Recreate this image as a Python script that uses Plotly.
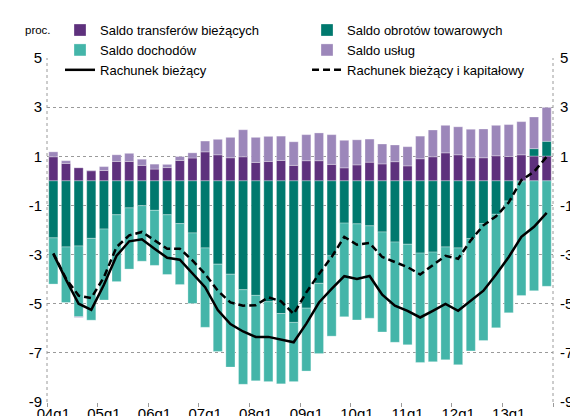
import plotly.graph_objects as go

quarters = [f"{y:02d}q{q}" for y in range(4, 14) for q in range(1, 5)]
tick_labels = ["04q1", "05q1", "06q1", "07q1", "08q1", "09q1", "10q1", "11q1", "12q1", "13q1"]

transfers = [0.98, 0.71, 0.53, 0.41, 0.42, 0.79, 0.79, 0.63, 0.48, 0.54,
             0.83, 0.93, 1.18, 1.06, 0.94, 0.98, 0.75, 0.79, 0.83, 0.63,
             0.82, 0.82, 0.67, 0.53, 0.65, 0.76, 0.69, 0.78, 0.61, 0.90,
             0.98, 1.14, 1.06, 0.94, 0.94, 1.02, 0.99, 1.06, 1.01, 1.01]
trade = [-2.32, -2.69, -2.65, -2.34, -1.96, -1.38, -1.10, -1.01, -1.20, -1.38,
         -1.74, -2.12, -2.73, -3.39, -3.80, -4.43, -4.66, -4.92, -5.40, -5.76,
         -5.18, -4.17, -3.05, -1.72, -1.75, -1.83, -2.08, -2.49, -2.58, -2.94,
         -2.90, -2.69, -2.73, -2.35, -1.74, -1.36, -0.82, -0.04, 0.30, 0.60]
income = [-1.88, -2.26, -2.88, -3.33, -2.89, -2.72, -2.49, -2.26, -2.24, -2.43,
          -2.48, -2.87, -3.23, -3.55, -3.78, -3.85, -3.48, -3.25, -2.86, -2.41,
          -2.56, -2.86, -3.27, -3.81, -3.91, -3.76, -4.07, -4.08, -4.09, -4.45,
          -4.46, -4.59, -4.75, -4.57, -4.76, -4.62, -4.55, -4.63, -4.47, -4.29]
services = [0.20, 0.11, -0.03, 0.02, 0.16, 0.27, 0.33, 0.25, 0.20, 0.13,
            0.16, 0.21, 0.44, 0.63, 0.83, 1.10, 1.02, 1.02, 0.99, 0.96,
            1.06, 1.13, 1.21, 1.12, 1.02, 0.94, 0.81, 0.68, 0.78, 0.92,
            1.09, 1.12, 1.14, 1.16, 1.17, 1.24, 1.30, 1.35, 1.29, 1.38]
current_account = [-2.97, -4.02, -5.00, -5.25, -4.23, -3.05, -2.46, -2.38, -2.76, -3.13,
                   -3.21, -3.79, -4.33, -5.26, -5.83, -6.13, -6.35, -6.35, -6.45, -6.57,
                   -5.81, -4.95, -4.40, -3.88, -3.99, -3.87, -4.63, -5.08, -5.29, -5.56,
                   -5.29, -5.01, -5.29, -4.88, -4.47, -3.81, -3.10, -2.28, -1.87, -1.30]
current_capital = [-2.95, -3.98, -4.67, -4.77, -3.92, -2.69, -2.22, -2.08, -2.42, -2.76,
                   -2.76, -3.24, -3.79, -4.47, -4.95, -5.08, -5.06, -4.74, -4.90, -5.42,
                   -4.54, -3.79, -3.10, -2.28, -2.60, -2.53, -3.10, -3.31, -3.51, -3.81,
                   -3.44, -3.05, -3.17, -2.42, -1.81, -1.44, -0.88, 0.03, 0.37, 0.98]

y_ticks = [5, 3, 1, -1, -3, -5, -7, -9]
y_text = [str(v) for v in y_ticks]

x = list(range(len(quarters)))
font_family = "Liberation Sans, Arial, sans-serif"

fig = go.Figure()
bar_line = dict(color="rgba(255,255,255,0.6)", width=0.5)
fig.add_trace(go.Bar(x=x, y=transfers, name="Saldo transferów bieżących",
                     marker=dict(color="#5E317D", line=bar_line)))
fig.add_trace(go.Bar(x=x, y=trade, name="Saldo obrotów towarowych",
                     marker=dict(color="#00796E", line=bar_line)))
fig.add_trace(go.Bar(x=x, y=income, name="Saldo dochodów",
                     marker=dict(color="#44B5A9", line=bar_line)))
fig.add_trace(go.Bar(x=x, y=services, name="Saldo usług",
                     marker=dict(color="#9C87BA", line=bar_line)))
fig.add_trace(go.Scatter(x=x, y=current_account, name="Rachunek bieżący", mode="lines",
                         line=dict(color="black", width=2.5)))
fig.add_trace(go.Scatter(x=x, y=current_capital, name="Rachunek bieżący i kapitałowy", mode="lines",
                         line=dict(color="black", width=2.5, dash="7px,4px")))
fig.add_trace(go.Scatter(x=[0], y=[0], yaxis="y2", mode="markers", marker=dict(opacity=0),
                         showlegend=False, hoverinfo="skip"))

grid_color = "#9a9a9a"
fig.update_layout(
    width=578, height=416,
    margin=dict(l=39, r=33, t=50, b=22, autoexpand=False),
    paper_bgcolor="white", plot_bgcolor="white",
    barmode="relative", bargap=0.28,
    font=dict(family=font_family, size=14, color="black"),
    showlegend=True,
    legend=dict(orientation="h", xref="container", yref="container",
                x=0.090, xanchor="left", y=0.983, yanchor="top",
                entrywidth=202, entrywidthmode="pixels",
                bgcolor="rgba(0,0,0,0)", font=dict(size=13),
                traceorder="normal", itemwidth=30, tracegroupgap=0),
    xaxis=dict(range=[-0.5, 39.5], tickmode="array",
               tickvals=[i * 4 for i in range(len(tick_labels))], ticktext=tick_labels,
               ticks="", showgrid=False, zeroline=False, showline=False,
               ticklabelstandoff=1,
               minor=dict(tickmode="array", tickvals=[i * 4 - 0.5 for i in range(11)],
                          ticks="outside", ticklen=4, tickcolor=grid_color, showgrid=False),
               tickfont=dict(size=15)),
    yaxis=dict(range=[-9, 5], tickmode="array", tickvals=y_ticks, ticktext=y_text,
               showgrid=True, gridcolor=grid_color, griddash="dot", gridwidth=1,
               zeroline=False, showline=False, ticks="", ticklabelstandoff=4,
               tickfont=dict(size=15)),
    yaxis2=dict(range=[-9, 5], overlaying="y", side="right", tickmode="array",
                tickvals=y_ticks, ticktext=y_text, showgrid=False, zeroline=False,
                showline=False, ticks="", ticklabelstandoff=6, tickfont=dict(size=15)),
    shapes=[
        dict(type="line", xref="paper", yref="paper", x0=0, x1=0, y0=0, y1=1,
             line=dict(color=grid_color, width=1, dash="dot"), layer="below"),
        dict(type="line", xref="paper", yref="paper", x0=1, x1=1, y0=0, y1=1,
             line=dict(color=grid_color, width=1, dash="dot"), layer="below"),
    ],
    annotations=[dict(text="proc.", xref="paper", yref="paper", x=-0.048, y=1.081,
                      xanchor="left", yanchor="middle", showarrow=False,
                      font=dict(size=11.5))],
)

fig.write_html("out.html")
